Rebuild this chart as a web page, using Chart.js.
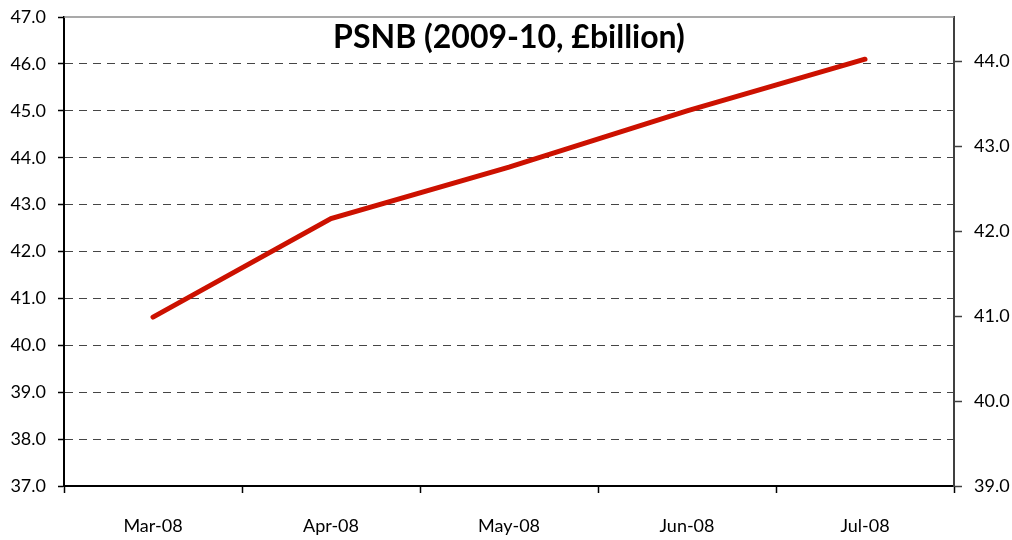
<!DOCTYPE html>
<html>
<head>
<meta charset="utf-8">
<script src="https://cdn.jsdelivr.net/npm/chart.js@4.4.0/dist/chart.umd.min.js"></script>
<style>
  html, body { margin: 0; padding: 0; background: #fff; }
  #wrap { width: 1012px; height: 540px; }
</style>
</head>
<body>
<div id="wrap"><canvas id="psnb"></canvas></div>
<script>
// dane z wykresu
const months = ['Mar-08', 'Apr-08', 'May-08', 'Jun-08', 'Jul-08'];
const psnb = [40.6, 42.7, 43.8, 45.0, 46.1];
const leftTicks = [37, 38, 39, 40, 41, 42, 43, 44, 45, 46, 47];
const rightTicks = [39, 40, 41, 42, 43, 44];
const chartTitle = 'PSNB (2009-10, £billion)';

const FONT = 'Lato, "DejaVu Sans", sans-serif';

// tytuł wewnątrz obszaru wykresu + szara górna ramka
const innerTitle = {
  id: 'innerTitle',
  afterDatasetsDraw(chart) {
    const { ctx, chartArea } = chart;
    ctx.save();
    ctx.strokeStyle = '#8c8c8c';
    ctx.lineWidth = 1.5;
    ctx.beginPath();
    ctx.moveTo(chartArea.left, chartArea.top);
    ctx.lineTo(chartArea.right, chartArea.top);
    ctx.stroke();
    ctx.fillStyle = '#000';
    ctx.font = 'bold 32px ' + FONT;
    ctx.textAlign = 'center';
    ctx.textBaseline = 'middle';
    ctx.fillText(chartTitle, (chartArea.left + chartArea.right) / 2, chartArea.top + 21);
    ctx.restore();
  }
};

const ctx = document.getElementById('psnb').getContext('2d');
const chart = new Chart(ctx, {
  type: 'line',
  data: {
    labels: months,
    datasets: [{
      label: 'PSNB',
      data: psnb,
      yAxisID: 'y',
      borderColor: '#cc1100',
      borderWidth: 5,
      pointRadius: 0,
      tension: 0,
      borderCapStyle: 'round'
    }]
  },
  plugins: [innerTitle],
  options: {
    responsive: true,
    maintainAspectRatio: false,
    animation: false,
    layout: { padding: { top: 17, left: 0, right: 0, bottom: 0 } },
    plugins: {
      legend: { display: false },
      title: { display: false },
      tooltip: { enabled: false }
    },
    scales: {
      x: {
        offset: true,
        grid: {
          display: true,
          offset: true,
          drawOnChartArea: false,
          tickLength: 7,
          tickColor: '#000',
          tickWidth: 1.5
        },
        border: { color: '#000', width: 2 },
        ticks: {
          color: '#000',
          font: { family: FONT, size: 18 },
          padding: 22,
          maxRotation: 0
        },
        afterFit(axis) { axis.height = 54; }
      },
      y: {
        position: 'left',
        min: 37,
        max: 47,
        afterBuildTicks(axis) { axis.ticks = leftTicks.map(v => ({ value: v })); },
        grid: {
          color: c => (c.tick && (c.tick.value === 47 || c.tick.value === 37)) ? 'rgba(0,0,0,0)' : '#454545',
          lineWidth: 1,
          tickLength: 6,
          tickColor: '#000',
          tickWidth: 1.5
        },
        border: { color: '#000', width: 2, dash: [8, 6] },
        ticks: {
          color: '#000',
          font: { family: FONT, size: 18 },
          padding: 12,
          callback: v => Number(v).toFixed(1)
        },
        afterFit(axis) { axis.width = 64; axis.paddingTop = 0; axis.paddingBottom = 0; }
      },
      y2: {
        position: 'right',
        min: 39,
        max: 44.52,
        afterBuildTicks(axis) { axis.ticks = rightTicks.map(v => ({ value: v })); },
        grid: {
          drawOnChartArea: false,
          tickLength: 8,
          tickColor: '#404040',
          tickWidth: 1.5
        },
        border: { color: '#404040', width: 2 },
        ticks: {
          color: '#000',
          font: { family: FONT, size: 18 },
          padding: 12,
          callback: v => Number(v).toFixed(1)
        },
        afterFit(axis) { axis.width = 58; axis.paddingTop = 0; axis.paddingBottom = 0; }
      }
    }
  }
});
</script>
</body>
</html>
